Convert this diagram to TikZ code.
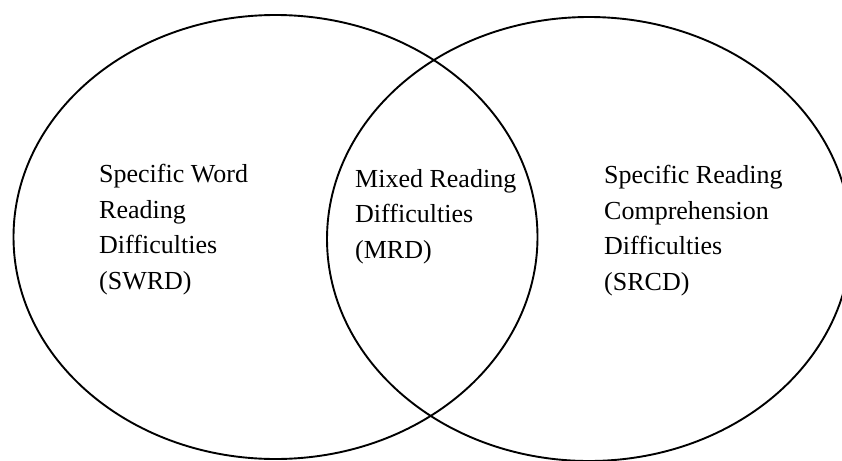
\documentclass[tikz,border=0pt]{standalone}
\usepackage{fontspec}
\setmainfont{Liberation Serif}
\usetikzlibrary{shapes.geometric}
\tikzstyle{set}=[shape=ellipse,draw=black,line width=1.9pt,minimum width=524pt,minimum height=444pt,inner sep=0pt]
\tikzstyle{setlabel}=[align=left,inner sep=0pt,anchor=north west,font=\fontsize{26}{35.5}\selectfont]

\begin{document}
\begin{tikzpicture}[x=1pt,y=-1pt]
\clip (0,0) rectangle (842,460);
\useasboundingbox (0,0) rectangle (842,460);
% sets
\node[set] (swrd) at (275.5,237) {};
\node[set] (srcd) at (589,239) {};
% labels
\node[setlabel] (swrdtext) at (99,164) {Specific Word\\Reading\\Difficulties\\(SWRD)};
\node[setlabel] (mrdtext) at (355,169) {Mixed Reading\\Difficulties\\(MRD)};
\node[setlabel] (srcdtext) at (604,165) {Specific Reading\\Comprehension\\Difficulties\\(SRCD)};
\end{tikzpicture}
\end{document}
